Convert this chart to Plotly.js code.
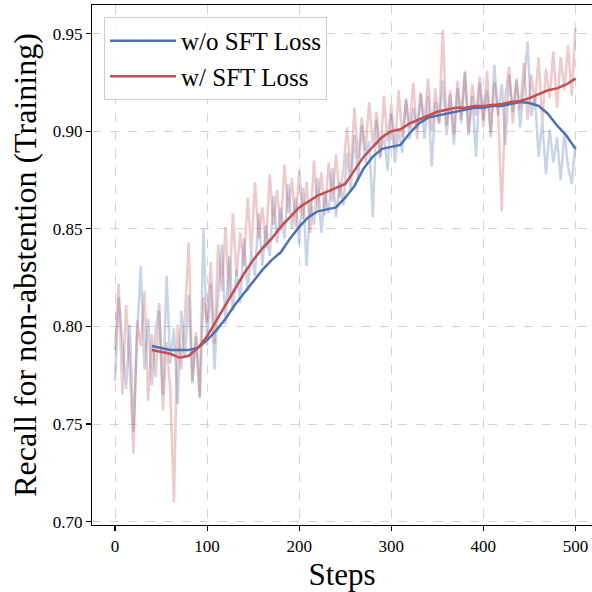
<!DOCTYPE html>
<html>
<head>
<meta charset="utf-8">
<script src="https://cdn.plot.ly/plotly-3.0.1.min.js"></script>
<style>html,body{margin:0;padding:0;background:#fff;}#chart{width:592px;height:592px;}</style>
</head>
<body>
<div id="chart"></div>
<script>
const rawSteps = [0,4,8,12,16,20,24,28,32,36,40,44,48,52,56,60,64,68,72,76,80,84,88,92,96,100,104,108,112,116,120,124,128,132,136,140,144,148,152,156,160,164,168,172,176,180,184,188,192,196,200,204,208,212,216,220,224,228,232,236,240,244,248,252,256,260,264,268,272,276,280,284,288,292,296,300,304,308,312,316,320,324,328,332,336,340,344,348,352,356,360,364,368,372,376,380,384,388,392,396,400,404,408,412,416,420,424,428,432,436,440,444,448,452,456,460,464,468,472,476,480,484,488,492,496,500];

const rawWithout = [0.772,0.815,0.792,0.768,0.801,0.746,0.795,0.831,0.778,0.804,
0.770,0.797,0.812,0.765,0.826,0.781,0.799,0.760,0.808,0.784,
0.816,0.771,0.795,0.763,0.850,0.790,0.822,0.778,0.815,0.842,
0.801,0.836,0.808,0.829,0.812,0.845,0.818,0.838,0.826,0.858,
0.831,0.852,0.836,0.867,0.843,0.861,0.845,0.873,0.850,0.866,
0.842,0.871,0.831,0.864,0.852,0.876,0.848,0.868,0.858,0.881,
0.856,0.874,0.862,0.889,0.870,0.898,0.876,0.903,0.884,0.895,
0.856,0.906,0.887,0.899,0.880,0.909,0.884,0.901,0.889,0.917,
0.896,0.912,0.901,0.920,0.896,0.918,0.882,0.915,0.904,0.926,
0.898,0.919,0.893,0.922,0.904,0.931,0.898,0.918,0.887,0.925,
0.906,0.921,0.899,0.934,0.908,0.924,0.893,0.929,0.910,0.927,
0.902,0.924,0.946,0.908,0.918,0.887,0.905,0.878,0.901,0.884,
0.897,0.875,0.899,0.882,0.873,0.893];

const rawWith = [0.788,0.822,0.765,0.811,0.779,0.735,0.803,0.790,0.818,0.762,
0.796,0.774,0.808,0.757,0.792,0.768,0.710,0.801,0.778,0.806,
0.843,0.772,0.797,0.764,0.815,0.802,0.833,0.791,0.842,0.818,
0.851,0.815,0.858,0.826,0.848,0.831,0.866,0.838,0.874,0.845,
0.861,0.840,0.878,0.852,0.870,0.849,0.883,0.858,0.876,0.851,
0.880,0.855,0.874,0.848,0.885,0.860,0.879,0.857,0.884,0.864,
0.888,0.866,0.881,0.902,0.879,0.912,0.886,0.907,0.890,0.915,
0.893,0.910,0.886,0.918,0.895,0.914,0.891,0.921,0.897,0.916,
0.902,0.925,0.896,0.919,0.905,0.927,0.900,0.922,0.904,0.952,
0.903,0.921,0.898,0.926,0.906,0.930,0.899,0.924,0.908,0.928,
0.902,0.931,0.897,0.925,0.910,0.859,0.918,0.933,0.904,0.926,
0.911,0.935,0.906,0.929,0.914,0.938,0.905,0.932,0.917,0.941,
0.912,0.938,0.921,0.944,0.918,0.953];

// Smoothed curves (moving average shown in the picture), every 10 steps
const smoothSteps = [40,50,60,70,80,90,100,110,120,130,140,150,160,170,180,190,200,210,220,230,240,250,260,270,280,290,300,310,320,330,340,350,360,370,380,390,400,410,420,430,440,450,460,470,480,490,500];
const smoothWithout = [0.790,0.789,0.788,0.788,0.788,0.789,0.793,0.798,0.804,0.811,0.817,0.823,0.829,0.834,0.838,0.845,0.851,0.856,0.859,0.860,0.861,0.866,0.872,0.881,0.887,0.891,0.892,0.893,0.899,0.904,0.907,0.908,0.909,0.910,0.911,0.912,0.912,0.913,0.913,0.914,0.915,0.9145,0.913,0.909,0.903,0.898,0.891];
const smoothWith = [0.788,0.787,0.786,0.784,0.785,0.789,0.795,0.803,0.811,0.819,0.827,0.834,0.840,0.845,0.851,0.856,0.861,0.864,0.867,0.869,0.871,0.873,0.880,0.887,0.892,0.897,0.900,0.901,0.904,0.906,0.908,0.910,0.911,0.912,0.912,0.913,0.913,0.9135,0.914,0.915,0.9155,0.917,0.919,0.921,0.922,0.924,0.927];

const seriesNames = ['w/o SFT Loss', 'w/ SFT Loss'];
const blue = '#4c72b0', red = '#c44e52';
const FONT = '"Liberation Serif", "Times New Roman", Times, serif';

const traces = [
  {x: rawSteps, y: rawWithout, mode: 'lines', line: {color: blue, width: 2.5}, opacity: 0.3, showlegend: false, hoverinfo: 'skip'},
  {x: rawSteps, y: rawWith, mode: 'lines', line: {color: red, width: 2.5}, opacity: 0.3, showlegend: false, hoverinfo: 'skip'},
  {x: smoothSteps, y: smoothWithout, mode: 'lines', name: seriesNames[0], line: {color: blue, width: 2.5}},
  {x: smoothSteps, y: smoothWith, mode: 'lines', name: seriesNames[1], line: {color: red, width: 2.5}}
];

const layout = {
  width: 592, height: 592,
  margin: {l: 92, r: 0, t: 5, b: 67, pad: 0},
  paper_bgcolor: '#fff', plot_bgcolor: '#fff',
  font: {family: FONT, color: '#000', size: 17},
  xaxis: {
    range: [-25, 518], tickvals: [0,100,200,300,400,500],
    showline: true, linecolor: '#000', linewidth: 1.2, mirror: true,
    ticks: 'outside', ticklen: 5, tickcolor: '#000', tickwidth: 1.2,
    showgrid: true, gridcolor: '#d4d4d4', griddash: 'dash', gridwidth: 1,
    zeroline: false, tickfont: {family: FONT, size: 17},
    title: {text: 'Steps', font: {family: FONT, size: 31}, standoff: 9}
  },
  yaxis: {
    range: [0.6983, 0.9647], tickvals: [0.70,0.75,0.80,0.85,0.90,0.95], tickformat: '.2f',
    showline: true, linecolor: '#000', linewidth: 1.2,
    ticks: 'outside', ticklen: 5, tickcolor: '#000', tickwidth: 1.2,
    showgrid: true, gridcolor: '#d4d4d4', griddash: 'dash', gridwidth: 1,
    zeroline: false, tickfont: {family: FONT, size: 17},
    title: {text: 'Recall for non-abstention (Training)', font: {family: FONT, size: 32}, standoff: 6}
  },
  legend: {
    x: 0.024, y: 0.977, xanchor: 'left', yanchor: 'top',
    bgcolor: 'rgba(255,255,255,0.85)', bordercolor: '#cccccc', borderwidth: 1,
    font: {family: FONT, size: 25}, itemwidth: 66, tracegroupgap: 0
  },
  showlegend: true
};

Plotly.newPlot('chart', traces, layout, {displayModeBar: false, staticPlot: true});
</script>
</body>
</html>
